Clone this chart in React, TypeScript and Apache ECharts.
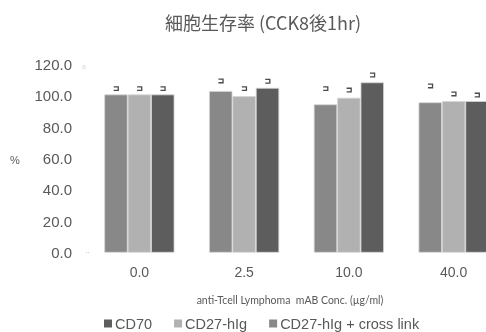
import React, { useEffect, useRef } from "react";
import * as echarts from "echarts";

const categories = ["0.0", "2.5", "10.0", "40.0"];
const seriesNames = ["CD70", "CD27-hIg", "CD27-hIg + cross link"];
// bars drawn left-to-right within each group: cross link, CD27-hIg, CD70
const crossLink = [100.8, 103, 94.5, 95.8];
const cd27 = [100.8, 99.7, 98.7, 96.6];
const cd70 = [100.8, 105, 108.5, 96.6];
// tops of the error marks
const crossLinkErr = [104.5, 109.4, 104.5, 106.2];
const cd27Err = [104.5, 104.5, 103.6, 101.1];
const cd70Err = [104.5, 109.2, 113.2, 100.4];
const yTicks = [0, 20, 40, 60, 80, 100, 120];

const colDark = "#5d5d5d";
const colLight = "#b1b1b1";
const colMid = "#888888";
const textCol = "#595959";

export default function App() {
  const ref = useRef<HTMLDivElement>(null);
  useEffect(() => {
    if (!ref.current) return;
    const chart = echarts.init(ref.current, null, { renderer: "svg" });
    const order = [
      { name: seriesNames[2], data: crossLink, err: crossLinkErr, color: colMid },
      { name: seriesNames[1], data: cd27, err: cd27Err, color: colLight },
      { name: seriesNames[0], data: cd70, err: cd70Err, color: colDark },
    ];
    const errData: number[][] = [];
    order.forEach((s, si) => s.err.forEach((v, ci) => errData.push([ci, v, si])));
    const gapRatio = 0.33;
    chart.setOption({
      animation: false,
      title: {
        text: "細胞生存率 (CCK8後1hr)",
        left: 258,
        textAlign: "center",
        top: 8,
        textStyle: {
          fontFamily: "Noto Sans CJK JP",
          fontSize: 18,
          fontWeight: "normal",
          color: textCol,
        },
      },
      legend: {
        data: seriesNames,
        left: 99,
        top: 311,
        itemWidth: 8,
        itemHeight: 8,
        itemGap: 22,
        icon: "rect",
        itemStyle: { borderWidth: 0 },
        textStyle: { fontFamily: "Liberation Sans", fontSize: 14.5, color: textCol, padding: [0, 0, 0, -2] },
      },
      grid: { left: 87, top: 64.3, width: 419, bottom: 79.3, containLabel: false, outerBoundsMode: "none" },
      xAxis: {
        type: "category",
        data: categories,
        axisLine: { show: false },
        axisTick: { show: false },
        axisLabel: { fontFamily: "Liberation Sans", fontSize: 14, color: textCol, margin: 12 },
      },
      yAxis: {
        type: "value",
        min: 0,
        max: 120,
        interval: 20,
        splitLine: { show: false },
        axisLine: { show: false },
        axisTick: { show: false },
        axisLabel: {
          fontFamily: "Liberation Sans",
          fontSize: 15,
          color: textCol,
          margin: 15,
          formatter: (v: number) => (yTicks.includes(v) ? v.toFixed(1) : ""),
        },
      },
      graphic: [
        {
          type: "text",
          style: {
            text: "anti-Tcell Lymphoma  mAB Conc. (µg/ml)",
            x: 290,
            y: 300,
            fontFamily: "Lato",
            fontSize: 10.5,
            fill: textCol,
            textAlign: "center",
            textVerticalAlign: "middle",
          },
        },
        {
          type: "text",
          style: { text: "%", x: 15, y: 160, fontFamily: "Liberation Sans", fontSize: 11, fill: textCol, textAlign: "center", textVerticalAlign: "middle" },
        },
        {
          type: "text",
          style: { text: "a", x: 84, y: 66, fontFamily: "Liberation Sans", fontSize: 7, fill: "#d4d4d4", textAlign: "center", textVerticalAlign: "middle" },
        },
        {
          type: "line",
          shape: { x1: 86, y1: 252.5, x2: 90, y2: 252.5 },
          style: { stroke: "#cfcfcf", lineWidth: 1, lineDash: [1, 1] },
        },
      ],
      series: [
        ...order.map((s) => ({
          type: "bar",
          name: s.name,
          data: s.data,
          barGap: "0%",
          barCategoryGap: "33%",
          itemStyle: { color: s.color, borderColor: "#d6d6d6", borderWidth: 0.8 },
          emphasis: { disabled: true },
        })),
        {
          type: "custom",
          data: errData,
          silent: true,
          z: 5,
          renderItem: (params: any, api: any) => {
            const ci = api.value(0);
            const v = api.value(1);
            const si = api.value(2);
            const pt = api.coord([ci, v]);
            const band = api.size([1, 0])[0];
            const bw = (band * (1 - gapRatio)) / 3;
            const cx = pt[0] + (si - 1) * bw;
            const cy = pt[1];
            const w = 2.3;
            const h = 1.8;
            return {
              type: "polyline",
              shape: {
                points: [
                  [cx - w, cy - h],
                  [cx + w, cy - h],
                  [cx + w, cy + h],
                  [cx - w, cy + h],
                ],
              },
              style: { stroke: "#4a4a4a", lineWidth: 1.3, fill: "none" },
            };
          },
        },
      ],
    });
    return () => chart.dispose();
  }, []);
  return <div ref={ref} style={{ width: 486, height: 332, position: "fixed", left: 0, top: 0 }} />;
}
